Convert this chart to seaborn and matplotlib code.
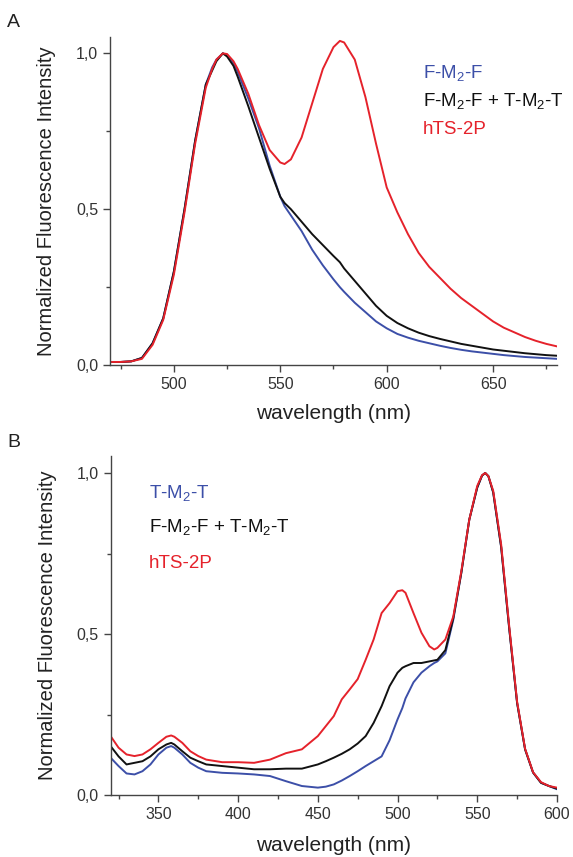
import numpy as np
import pandas as pd
import seaborn as sns
import matplotlib.pyplot as plt
from matplotlib.ticker import MultipleLocator, FuncFormatter

# ---- panel A data ----
wl_a = [470, 475, 480, 485, 490, 495, 500, 505, 510, 515, 518, 520, 523, 525, 528, 530, 535, 540, 545,
        550, 552, 555, 560, 565, 570, 575, 578, 580, 585, 590, 595, 600, 605, 610, 615, 620, 625, 630,
        635, 640, 645, 650, 655, 660, 665, 670, 675, 680]
fmf_a = [0.01, 0.01, 0.012, 0.023, 0.07, 0.15, 0.3, 0.5, 0.72, 0.9, 0.955, 0.98, 1.0, 0.995, 0.97, 0.94,
         0.855, 0.76, 0.64, 0.54, 0.51, 0.48, 0.43, 0.37, 0.32, 0.275, 0.25, 0.235, 0.2, 0.17, 0.14,
         0.118, 0.1, 0.088, 0.078, 0.07, 0.062, 0.055, 0.049, 0.044, 0.04, 0.036, 0.032, 0.029, 0.026,
         0.024, 0.022, 0.02]
mix_a = [0.01, 0.01, 0.012, 0.023, 0.07, 0.15, 0.3, 0.5, 0.72, 0.9, 0.945, 0.975, 1.0, 0.99, 0.96, 0.925,
         0.83, 0.73, 0.63, 0.54, 0.52, 0.5, 0.46, 0.42, 0.385, 0.35, 0.33, 0.31, 0.27, 0.23, 0.19,
         0.158, 0.135, 0.118, 0.104, 0.093, 0.084, 0.076, 0.068, 0.062, 0.056, 0.05, 0.046, 0.042,
         0.038, 0.035, 0.032, 0.03]
hts_a = [0.01, 0.01, 0.012, 0.02, 0.065, 0.145, 0.29, 0.49, 0.71, 0.89, 0.95, 0.98, 1.0, 0.998, 0.975, 0.95,
         0.87, 0.77, 0.69, 0.65, 0.645, 0.66, 0.73, 0.84, 0.95, 1.02, 1.04, 1.035, 0.98, 0.86, 0.71,
         0.57, 0.49, 0.42, 0.36, 0.315, 0.28, 0.245, 0.215, 0.19, 0.165, 0.14, 0.12, 0.105, 0.09,
         0.078, 0.068, 0.06]

# ---- panel B data ----
wl_b = [320, 325, 330, 335, 340, 345, 350, 355, 358, 360, 365, 370, 375, 380, 390, 400, 410, 420, 430,
        440, 450, 455, 460, 465, 470, 475, 480, 485, 490, 495, 500, 503, 505, 510, 515, 520, 523, 525,
        530, 535, 540, 545, 550, 553, 555, 557, 560, 565, 570, 575, 580, 585, 590, 595, 600]
tmt_b = [0.116, 0.09, 0.067, 0.064, 0.074, 0.095, 0.126, 0.147, 0.152, 0.147, 0.126, 0.1, 0.085, 0.074,
         0.069, 0.067, 0.064, 0.059, 0.043, 0.028, 0.023, 0.026, 0.033, 0.045, 0.059, 0.074, 0.09,
         0.105, 0.12, 0.17, 0.235, 0.27, 0.3, 0.35, 0.38, 0.4, 0.41, 0.415, 0.44, 0.545, 0.69, 0.855,
         0.955, 0.992, 1.0, 0.99, 0.94, 0.77, 0.52, 0.286, 0.142, 0.07, 0.038, 0.028, 0.018]
mix_b = [0.152, 0.12, 0.095, 0.1, 0.105, 0.12, 0.142, 0.157, 0.162, 0.157, 0.136, 0.116, 0.105, 0.095,
         0.09, 0.085, 0.08, 0.08, 0.082, 0.082, 0.095, 0.105, 0.116, 0.128, 0.142, 0.16, 0.183, 0.224,
         0.276, 0.338, 0.38, 0.395, 0.4, 0.41, 0.41, 0.415, 0.418, 0.42, 0.45, 0.55, 0.69, 0.855,
         0.955, 0.992, 1.0, 0.99, 0.94, 0.77, 0.52, 0.286, 0.142, 0.07, 0.038, 0.028, 0.02]
hts_b = [0.183, 0.147, 0.126, 0.121, 0.126, 0.142, 0.162, 0.181, 0.185, 0.181, 0.162, 0.136, 0.121, 0.11,
         0.102, 0.102, 0.1, 0.11, 0.13, 0.142, 0.183, 0.214, 0.245, 0.297, 0.328, 0.36, 0.42, 0.483,
         0.565, 0.596, 0.633, 0.636, 0.628, 0.565, 0.504, 0.462, 0.452, 0.457, 0.483, 0.555, 0.695,
         0.855, 0.96, 0.993, 1.0, 0.99, 0.945, 0.778, 0.527, 0.29, 0.144, 0.071, 0.04, 0.028, 0.023]

BLUE = "#3c4fa8"
BLACK = "#111111"
RED = "#e5222b"

sns.set_style("ticks")
plt.rcParams['font.family'] = ['Liberation Sans', 'DejaVu Sans']
plt.rcParams['mathtext.fontset'] = 'custom'
plt.rcParams['mathtext.rm'] = 'Liberation Sans'
plt.rcParams['mathtext.it'] = 'Liberation Sans'

fig = plt.figure(figsize=(5.73, 8.57), dpi=100)
ax_a = fig.add_axes([0.192, 0.574, 0.780, 0.383])
ax_b = fig.add_axes([0.193, 0.0723, 0.779, 0.3957])

comma = FuncFormatter(lambda v, p: ("%.1f" % v).replace(".", ","))


def draw(ax, wl, series, xlim, major, minor):
    for vals, col in series:
        sns.lineplot(x=wl, y=vals, ax=ax, color=col, linewidth=1.4, estimator=None, sort=False)
    ax.set_xlim(*xlim)
    ax.set_ylim(0, 1.053)
    ax.xaxis.set_major_locator(MultipleLocator(major))
    ax.xaxis.set_minor_locator(MultipleLocator(minor))
    ax.yaxis.set_major_locator(MultipleLocator(0.5))
    ax.yaxis.set_minor_locator(MultipleLocator(0.25))
    ax.yaxis.set_major_formatter(comma)
    sns.despine(ax=ax)
    for s in ["left", "bottom"]:
        ax.spines[s].set_color("#444444")
        ax.spines[s].set_linewidth(1.0)
    ax.tick_params(which="major", length=5, width=1, color="#444444", labelsize=11.5, labelcolor="#333333")
    ax.tick_params(which="minor", length=3, width=1, color="#444444")
    ax.set_xlabel("wavelength (nm)", fontsize=15, color="#222222")
    ax.set_ylabel("Normalized Fluorescence Intensity", fontsize=14.5, color="#222222")
    ax.yaxis.set_label_coords(-0.12, 0.5)
    ax.xaxis.set_label_coords(0.5, -0.12)


draw(ax_a, wl_a, [(fmf_a, BLUE), (mix_a, BLACK), (hts_a, RED)], (470, 680), 50, 25)
draw(ax_b, wl_b, [(tmt_b, BLUE), (mix_b, BLACK), (hts_b, RED)], (320, 600), 50, 25)

fs = 13.5
ax_a.text(0.70, 0.875, r"F-M$_2$-F", color=BLUE, fontsize=fs, transform=ax_a.transAxes)
ax_a.text(0.70, 0.79, r"F-M$_2$-F + T-M$_2$-T", color=BLACK, fontsize=fs, transform=ax_a.transAxes)
ax_a.text(0.70, 0.705, "hTS-2P", color=RED, fontsize=fs, transform=ax_a.transAxes)

ax_b.text(0.085, 0.875, r"T-M$_2$-T", color=BLUE, fontsize=fs, transform=ax_b.transAxes)
ax_b.text(0.085, 0.775, r"F-M$_2$-F + T-M$_2$-T", color=BLACK, fontsize=fs, transform=ax_b.transAxes)
ax_b.text(0.085, 0.67, "hTS-2P", color=RED, fontsize=fs, transform=ax_b.transAxes)

fig.text(0.012, 0.968, "A", fontsize=14, color="#222222")
fig.text(0.012, 0.478, "B", fontsize=14, color="#222222")

fig.savefig("out.png", dpi=100)
